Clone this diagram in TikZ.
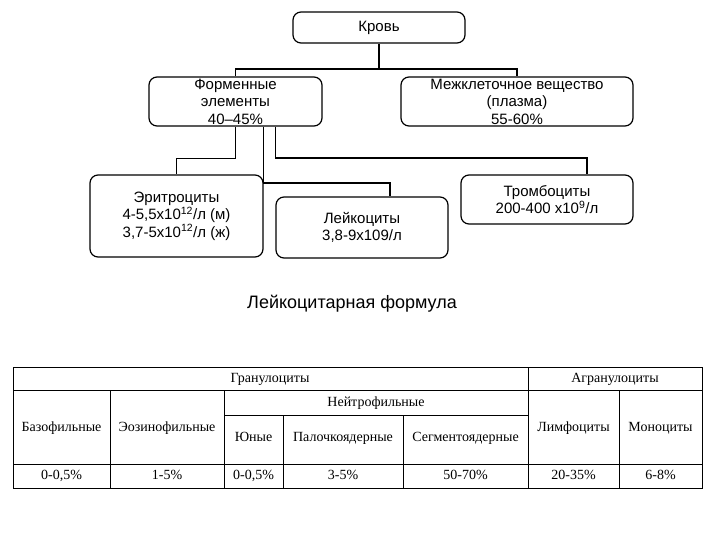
\documentclass[tikz,border=0pt]{standalone}
\usepackage{fontspec}
\setmainfont{Liberation Serif}
\setsansfont{Liberation Sans}
\usepackage{tikz}
\usetikzlibrary{positioning}
\tikzset{
  blockbox/.style={draw,rounded corners=8,line width=1.2pt,align=center,
    font=\sffamily\fontsize{15}{17.5}\selectfont,inner sep=0pt},
  link/.style={line width=1.2pt},
  grid/.style={line width=0.9pt},
  cell/.style={font=\rmfamily\fontsize{14}{16}\selectfont,inner sep=0pt,
    text height=9.5pt,text depth=3pt}
}

\begin{document}
\begin{tikzpicture}[x=1pt,y=-1pt]
\useasboundingbox (0,0) rectangle (720,540);

% Tree
\node[blockbox,minimum width=172,minimum height=31] (krov) at (379,27.5) {Кровь};
\node[blockbox,minimum width=173,minimum height=49] (formed) at (235.5,101.5) {Форменные\\элементы\\40–45\%};
\node[blockbox,minimum width=232,minimum height=49] (plasma) at (517,101.5) {Межклеточное вещество\\(плазма)\\55-60\%};
\node[blockbox,minimum width=173,minimum height=82] (eryth) at (176.5,216) {Эритроциты\\4-5,5х10\textsuperscript{12}/л (м)\\3,7-5х10\textsuperscript{12}/л (ж)};
\node[blockbox,minimum width=172,minimum height=61] (leuk) at (362,227.5) {Лейкоциты\\3,8-9х109/л};
\node[blockbox,minimum width=172,minimum height=49] (tromb) at (547,199.5) {Тромбоциты\\200-400 х10\textsuperscript{9}/л};

% links
\coordinate (top) at (379,69);
\draw[link] (krov.south) -- (top);
\draw[link] (formed.north) |- (top) -| (plasma.north);
\draw[link] (formed.south) -- ++(0,32) -| (eryth.north);
\draw[link] ([xshift=28]formed.south) |- ([xshift=28]leuk.north |- 0,183) -- ([xshift=28]leuk.north);
\draw[link] ([xshift=40]formed.south) |- ([xshift=40]tromb.north |- 0,158) -- ([xshift=40]tromb.north);

\node[font=\sffamily\fontsize{18}{20}\selectfont] (title) at (352,304) {Лейкоцитарная формула};

% Table
\draw[grid] (13,367) rectangle (702,488);
\draw[grid] (13,390) -- (702,390);
\draw[grid] (224,415) -- (528,415);
\draw[grid] (13,464) -- (702,464);
\draw[grid] (528,367) -- (528,488);
\foreach \x in {110,224,619}
  \draw[grid] (\x,390) -- (\x,488);
\foreach \x in {283,403}
  \draw[grid] (\x,415) -- (\x,488);

\node[cell] (gran) at (270,379) {Гранулоциты};
\node[cell] (agran) at (615,379) {Агранулоциты};
\node[cell] (neut) at (376,403) {Нейтрофильные};
\node[cell] (baso) at (61.5,428) {Базофильные};
\node[cell] (eos) at (167,428) {Эозинофильные};
\node[cell] (young) at (253.5,438) {Юные};
\node[cell] (band) at (343,438) {Палочкоядерные};
\node[cell] (seg) at (465.5,438) {Сегментоядерные};
\node[cell] (lymph) at (573.5,428) {Лимфоциты};
\node[cell] (mono) at (660.5,428) {Моноциты};

\node[cell] (vbaso) at (61.5,476) {0-0,5\%};
\node[cell] (veos) at (167,476) {1-5\%};
\node[cell] (vyoung) at (253.5,476) {0-0,5\%};
\node[cell] (vband) at (343,476) {3-5\%};
\node[cell] (vseg) at (465.5,476) {50-70\%};
\node[cell] (vlymph) at (573.5,476) {20-35\%};
\node[cell] (vmono) at (660.5,476) {6-8\%};

\end{tikzpicture}
\end{document}
